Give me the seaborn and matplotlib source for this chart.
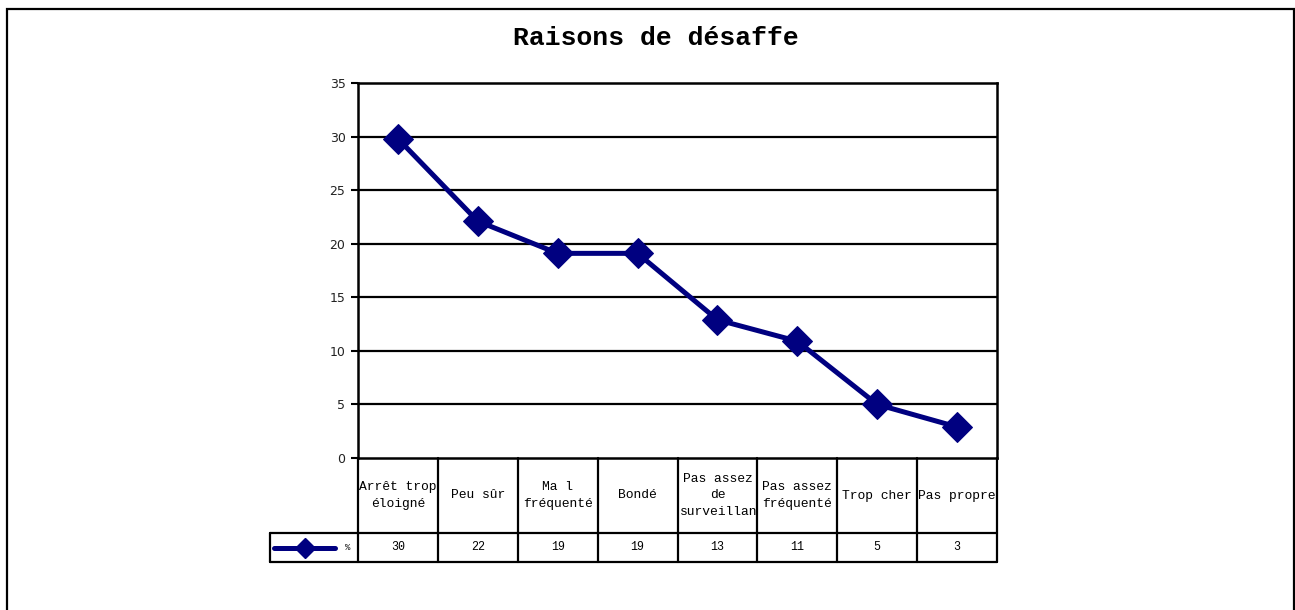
import matplotlib
matplotlib.use('Agg')
import matplotlib.pyplot as plt
import matplotlib.transforms as mtransforms
from matplotlib.patches import Rectangle
from matplotlib.lines import Line2D
import seaborn as sns
import pandas as pd

# ─── Data ─────────────────────────────────────────────────────────────────────

categories = ["Arrêt trop\néloigné", "Peu sûr", "Ma l\nfréquenté", "Bondé",
              "Pas assez\nde\nsurveillance", "Pas assez\nfréquenté",
              "Trop cher", "Pas propre"]
pct = [29.8, 22.1, 19.1, 19.1, 12.9, 10.9, 5.0, 2.9]
table_values = ["30", "22", "19", "19", "13", "11", "5", "3"]
series_name = "%"
title = "Raisons de désaffe"
yticks = [0, 5, 10, 15, 20, 25, 30, 35]

NAVY = "#000080"
MONO = "Liberation Mono"

df = pd.DataFrame({"pos": range(len(categories)), "pct": pct})

# ─── Figure ───────────────────────────────────────────────────────────────────

sns.set_style("white")
plt.rcParams['font.family'] = ['DejaVu Sans']
plt.rcParams['text.color'] = 'black'

W, H = 1295, 610
fig = plt.figure(figsize=(W / 100, H / 100), dpi=100)
fig.patch.set_facecolor("white")

# outer chart border
fig.add_artist(Rectangle((7 / W, -0.05), (1294 - 7) / W, 1.05 - 9 / H,
                         transform=fig.transFigure, fill=False,
                         edgecolor="black", linewidth=1.6))

x0, x1, y_top, y_bot = 358, 997, 83, 458
ax = fig.add_axes([x0 / W, 1 - y_bot / H, (x1 - x0) / W, (y_bot - y_top) / H])

sns.lineplot(data=df, x="pos", y="pct", ax=ax, color=NAVY, linewidth=3.6,
             marker="D", markersize=15, markeredgecolor=NAVY, zorder=5,
             legend=False)

ax.set_xlim(-0.5, len(categories) - 0.5)
ax.set_ylim(0, 35)
ax.set_yticks(yticks)
ax.set_yticklabels([str(t) for t in yticks], fontsize=9, color="#222222")
ax.set_xticks([])
ax.set_xlabel("")
ax.set_ylabel("")
ax.tick_params(axis="y", length=5, width=1.5, color="black", pad=4, left=True)
for y in yticks[1:-1]:
    ax.axhline(y, color="black", linewidth=1.6, zorder=1)
for s in ax.spines.values():
    s.set_visible(True)
    s.set_color("black")
    s.set_linewidth(1.8)

fig.text(656 / W, 1 - 38 / H, title, ha="center", va="center", color="black",
         fontsize=19, fontweight="bold", family=MONO)

# ─── Data table below the plot ────────────────────────────────────────────────

trans = mtransforms.blended_transform_factory(ax.transData, ax.transAxes)
span = y_bot - y_top
cell_px = (x1 - x0) / len(categories)
row1 = -(533 - y_bot) / span
row2 = -(562 - y_bot) / span
leg_left = -0.5 - (x0 - 270) / cell_px

lk = dict(color="black", linewidth=1.6, clip_on=False, transform=trans)
ax.add_line(Line2D([leg_left, len(categories) - 0.5], [row1, row1], **lk))
ax.add_line(Line2D([leg_left, len(categories) - 0.5], [row2, row2], **lk))
ax.add_line(Line2D([leg_left, leg_left], [row1, row2], **lk))
for i in range(len(categories) + 1):
    ax.add_line(Line2D([i - 0.5, i - 0.5], [0, row2], **lk))

label_fs = 9.4
char_px = 0.6 * label_fs * 100 / 72
line_h = label_fs * 1.3 * 100 / 72 / span

for i, (cat, val) in enumerate(zip(categories, table_values)):
    cell = mtransforms.TransformedBbox(
        mtransforms.Bbox([[i - 0.5, row1], [i + 0.5, 0]]), trans)
    lines = cat.split("\n")
    y_first = row1 / 2 + line_h * (len(lines) - 1) / 2
    for k, txt in enumerate(lines):
        # text wider than the cell starts at its left edge and is cut off
        if len(txt) * char_px > cell_px:
            xpos, ha = i - 0.5 + 2 / cell_px, "left"
        else:
            xpos, ha = i, "center"
        t = ax.text(xpos, y_first - k * line_h, txt, ha=ha, va="center",
                    fontsize=label_fs, family=MONO, transform=trans,
                    color="black")
        t.set_clip_box(cell)
        t.set_clip_on(True)
    ax.text(i, (row1 + row2) / 2, val, ha="center", va="center",
            fontsize=8.4, family=MONO, transform=trans, color="black",
            clip_on=False)

# legend key in the first cell of the value row
ym = (row1 + row2) / 2
ax.add_line(Line2D([leg_left + 0.05, leg_left + 0.82], [ym, ym], color=NAVY,
                   linewidth=3.6, clip_on=False, transform=trans))
ax.add_line(Line2D([leg_left + 0.44], [ym], color=NAVY, marker="D",
                   markersize=10, clip_on=False, transform=trans))
ax.text(leg_left + 0.97, ym, series_name, ha="center", va="center",
        fontsize=6.5, family=MONO, transform=trans, color="black",
        clip_on=False)

plt.savefig("out.png", dpi=100, facecolor="white")
